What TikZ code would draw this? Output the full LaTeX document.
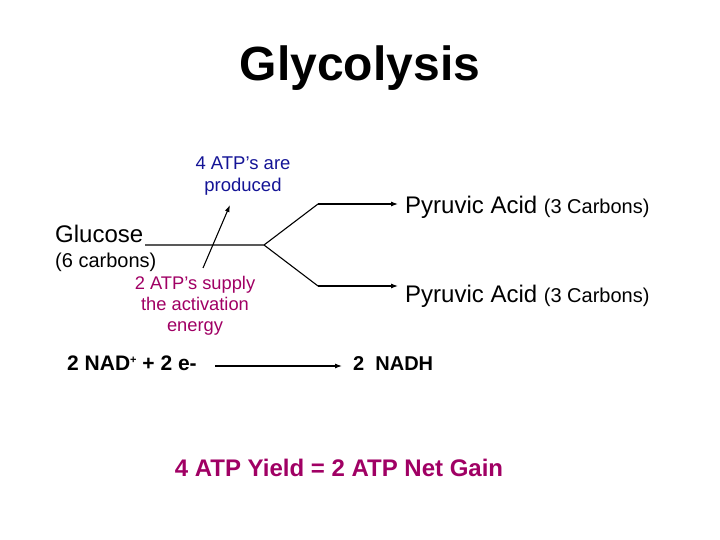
\documentclass[tikz,border=0pt]{standalone}
\usepackage{fontspec}
\usetikzlibrary{arrows.meta}
\setmainfont{Liberation Sans}
\definecolor{tblue}{RGB}{20,20,150}
\definecolor{tmag}{RGB}{160,0,100}
\begin{document}
\begin{tikzpicture}[x=1pt,y=-1pt,
  lbl/.style={inner sep=0pt,anchor=base west},
  ln/.style={line width=1.1pt},
  arr/.style={line width=1.1pt,-{Latex[length=7pt,width=5pt]}}]
\useasboundingbox (0,0) rectangle (720,540);
\node[inner sep=0pt,font=\bfseries\fontsize{48}{52}\selectfont] (title) at (360,68) {Glycolysis};
\node[inner sep=0pt,align=center,text=tblue,font=\fontsize{18.5}{22}\selectfont] (prod) at (243,176) {4 ATP’s are\\produced};
\node[lbl,font=\fontsize{24}{28}\selectfont] (glu) at (55,243) {Glucose};
\node[lbl,font=\fontsize{20}{24}\selectfont] (six) at (55,267) {(6 carbons)};
\node[inner sep=0pt,align=center,text=tmag,font=\fontsize{18.3}{21}\selectfont] (sup) at (195,306) {2 ATP’s supply\\the activation\\energy};
\node[lbl] (p1) at (405,214) {\fontsize{24}{28}\selectfont Pyruvic Acid \fontsize{20}{24}\selectfont(3 Carbons)};
\node[lbl] (p2) at (405,302) {\fontsize{24}{28}\selectfont Pyruvic Acid \fontsize{20}{24}\selectfont(3 Carbons)};
\node[lbl,font=\bfseries\fontsize{21}{24}\selectfont] (nad) at (67,370) {2 NAD\raisebox{0.6ex}{\fontsize{11}{12}\selectfont +} + 2 e-};
\node[lbl,font=\bfseries\fontsize{20}{24}\selectfont] (nadh) at (353,370) {2\ \ NADH};
\node[inner sep=0pt,text=tmag,font=\bfseries\fontsize{24}{28}\selectfont] (yield) at (339,468) {4 ATP Yield = 2 ATP Net Gain};
\coordinate (g0) at (145,245);
\coordinate (br) at (264,245);
\coordinate (u1) at (318,204);
\coordinate (d1) at (318,286);
\coordinate (u2) at (398,204);
\coordinate (d2) at (398,286);
\coordinate (a0) at (203,268);
\coordinate (a1) at (230,205);
\coordinate (n0) at (215,366);
\coordinate (n1) at (342,366);
\draw[ln] (g0) -- (br) -- (u1);
\draw[ln] (br) -- (d1);
\draw[arr] (u1) -- (u2);
\draw[arr] (d1) -- (d2);
\draw[arr] (a0) -- (a1);
\draw[arr] (n0) -- (n1);
\end{tikzpicture}
\end{document}
